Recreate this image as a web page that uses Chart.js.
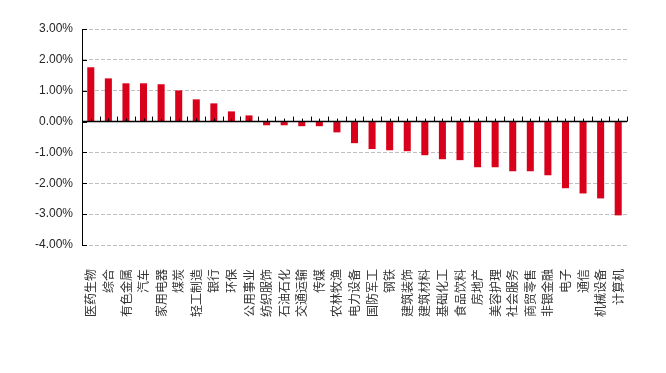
<!DOCTYPE html>
<html>
<head>
<meta charset="utf-8">
<script src="https://cdn.jsdelivr.net/npm/chart.js@4.4.1/dist/chart.umd.min.js"></script>
<style>
  html, body { margin: 0; padding: 0; background: #fff; }
  #wrap { width: 666px; height: 373px; position: relative; }
</style>
</head>
<body>
<div id="wrap"><canvas id="c"></canvas></div>
<script>
// industries, sorted by weekly change
const industries = ['医药生物', '综合', '有色金属', '汽车', '家用电器', '煤炭', '轻工制造', '银行', '环保',
  '公用事业', '纺织服饰', '石油石化', '交通运输', '传媒', '农林牧渔', '电力设备', '国防军工', '钢铁',
  '建筑装饰', '建筑材料', '基础化工', '食品饮料', '房地产', '美容护理', '社会服务', '商贸零售',
  '非银金融', '电子', '通信', '机械设备', '计算机'];
// change in %
const changes = [1.76, 1.40, 1.24, 1.24, 1.21, 1.01, 0.72, 0.59, 0.33,
  0.20, -0.12, -0.12, -0.15, -0.15, -0.35, -0.70, -0.89, -0.93,
  -0.96, -1.09, -1.22, -1.25, -1.48, -1.48, -1.61, -1.61,
  -1.74, -2.16, -2.33, -2.49, -3.04];
const yMin = -4, yMax = 3, yStep = 1;

// zero axis line + little tick marks, y-axis ticks pointing inward
const axisMarks = {
  id: 'axisMarks',
  afterDatasetsDraw(chart) {
    const { ctx, chartArea, scales: { x, y } } = chart;
    const y0 = y.getPixelForValue(0);
    ctx.save();
    ctx.strokeStyle = '#000';
    ctx.lineWidth = 1.5;
    ctx.beginPath();
    ctx.moveTo(chartArea.left, y0);
    ctx.lineTo(chartArea.right, y0);
    ctx.stroke();
    ctx.lineWidth = 1;
    ctx.beginPath();
    for (let i = 0; i <= industries.length; i++) {
      const px = Math.round(x.getPixelForValue(i - 0.5)) + 0.5;
      ctx.moveTo(px, y0);
      ctx.lineTo(px, y0 - 5);
    }
    for (let i = 0; i < industries.length; i++) {
      const px = Math.round(x.getPixelForValue(i)) + 0.5;
      ctx.moveTo(px, y0);
      ctx.lineTo(px, y0 - 3);
    }
    for (let v = yMin; v <= yMax; v += yStep) {
      const py = Math.round(y.getPixelForValue(v)) + 0.5;
      ctx.moveTo(chartArea.left, py);
      ctx.lineTo(chartArea.left + 5, py);
    }
    ctx.stroke();
    ctx.restore();
  }
};

new Chart(document.getElementById('c'), {
  type: 'bar',
  data: {
    labels: industries,
    datasets: [{
      data: changes,
      backgroundColor: '#d9001b',
      barPercentage: 0.4,
      categoryPercentage: 1.0
    }]
  },
  options: {
    responsive: true,
    maintainAspectRatio: false,
    animation: false,
    layout: { padding: { top: 29, right: 39, left: 0, bottom: 0 } },
    plugins: { legend: { display: false }, tooltip: { enabled: false } },
    scales: {
      x: {
        grid: { display: false },
        border: { display: false },
        ticks: {
          autoSkip: false,
          minRotation: 90,
          maxRotation: 90,
          padding: 16,
          color: '#333',
          font: { family: '"Noto Sans CJK SC", sans-serif', size: 12 }
        },
        afterFit(scale) { scale.height = 128; }
      },
      y: {
        min: yMin,
        max: yMax,
        grid: { color: '#bfbfbf', drawTicks: false, lineWidth: 1 },
        border: { display: true, color: '#000', width: 1, dash: [4, 2] },
        ticks: {
          stepSize: yStep,
          padding: 9,
          color: '#262626',
          font: { family: '"Liberation Sans", Arial, sans-serif', size: 12 },
          callback: v => v.toFixed(2) + '%'
        },
        afterFit(scale) { scale.width = 82; }
      }
    }
  },
  plugins: [axisMarks]
});
</script>
</body>
</html>
